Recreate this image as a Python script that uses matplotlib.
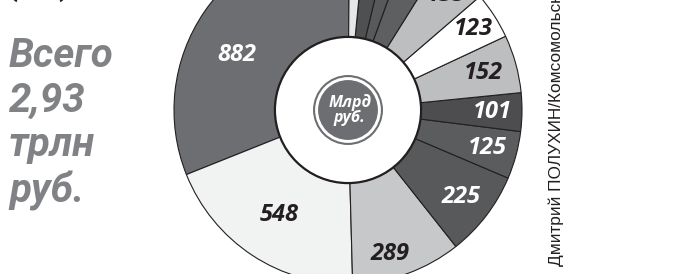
import numpy as np
import matplotlib
matplotlib.use("Agg")
from matplotlib import pyplot as plt
from matplotlib.patches import Circle

# slices, counterclockwise from the top
values = [882, 548, 289, 225, 125, 101, 152, 123, 135, 95, 50, 63, 40]
labels = ['882', '548', '289', '225', '125', '101', '152', '123', '135', '', '', '', '']
colors = ['#6d6e71', '#f1f2f2', '#c7c8ca', '#58595b', '#5b5c5e', '#4d4d4f',
          '#bcbec0', '#ffffff', '#bcbec0', '#5e5f61', '#58595b', '#4f5052', '#e6e7e8']
label_colors = ['white', '#231f20', '#231f20', 'white', 'white', 'white',
                '#231f20', '#231f20', '#231f20', '', '', '', '']
# label placement: distance from centre and a small turn off the mid-angle
label_dist = [0.71, 0.72, 0.86, 0.82, 0.83, 0.83, 0.81, 0.86, 0.87, 0, 0, 0, 0]
label_turn = [8, 0, -3.5, 0, 0, 0, 0, 0, 0, 0, 0, 0, 0]

total_text = "Всего\n2,93\nтрлн\nруб."
center_text = "Млрд\nруб."
credit = "Дмитрий ПОЛУХИН/Комсомольская правда"

W, H = 698, 274
fig = plt.figure(figsize=(W / 100, H / 100), dpi=100)
fig.patch.set_facecolor('white')

cx, cy, R = 348, 110, 174
ax = fig.add_axes([(cx - R) / W, (H - cy - R) / H, 2 * R / W, 2 * R / H])

edge = '#231f20'
wedges, _ = ax.pie(values, colors=colors, startangle=89.5, counterclock=True,
                   radius=1, wedgeprops=dict(width=0.58, edgecolor=edge, linewidth=0.8))
# pie() pads the limits, put them back so the ring fills the axes
ax.set_xlim(-1, 1)
ax.set_ylim(-1, 1)
ax.axis('off')

bold = ['Open Sans', 'DejaVu Sans']
for w, lab, col, d, t in zip(wedges, labels, label_colors, label_dist, label_turn):
    if not lab:
        continue
    ang = np.deg2rad((w.theta1 + w.theta2) / 2 + t)
    ax.text(d * np.cos(ang), d * np.sin(ang), lab, color=col, fontsize=17,
            fontweight='bold', fontstyle='italic', family=bold,
            ha='center', va='center')

# inner hole and the small badge
ax.add_patch(Circle((0, 0), 0.42, facecolor='white', edgecolor=edge, linewidth=1.6, zorder=5))
ax.add_patch(Circle((0, 0), 0.195, facecolor='white', edgecolor='#6d6e71', linewidth=1.5, zorder=6))
ax.add_patch(Circle((0, 0), 0.172, facecolor='#6d6e71', edgecolor='none', zorder=7))
ax.text(0.01, 0.0, center_text, color='white', fontsize=11.5, fontweight='bold',
        fontstyle='italic', family=bold, ha='center', va='center',
        linespacing=0.95, zorder=8)

# left caption
narrow = ['Roboto', 'DejaVu Sans']
fig.text(9 / W, 1 - 37 / H, total_text, color='#808285', fontsize=29,
         fontweight='bold', fontstyle='italic', family=narrow,
         ha='left', va='top', linespacing=1.22)
fig.text(8 / W, 1 + 26 / H, "(      )", color='#231f20', fontsize=20,
         fontweight='bold', family=narrow, ha='left', va='top')

# credit line
fig.text(556 / W, 1 - 266 / H, credit, color='#231f20', fontsize=12.4,
         family=['Liberation Sans', 'DejaVu Sans'], rotation=90,
         ha='center', va='bottom')

plt.savefig("out.png", format="png", dpi=100)
